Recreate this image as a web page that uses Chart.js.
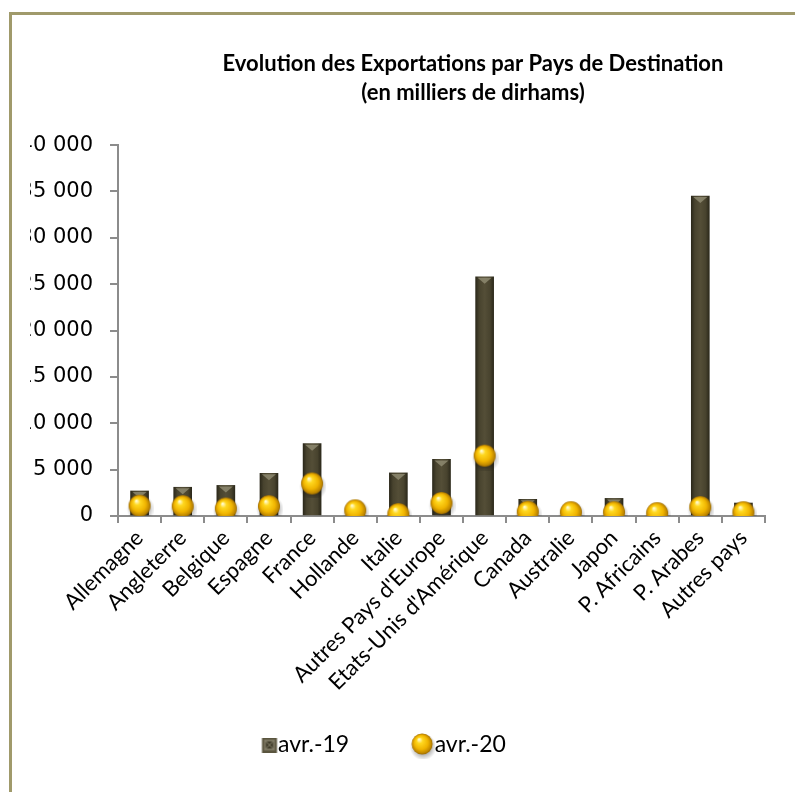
<!DOCTYPE html>
<html>
<head>
<meta charset="utf-8">
<script src="https://cdn.jsdelivr.net/npm/chart.js@4"></script>
<style>
  html,body{margin:0;padding:0;background:#fff;width:795px;height:792px;overflow:hidden;}
  #frame{position:absolute;left:9px;top:12px;width:1000px;height:1000px;border-left:3px solid #a09a6b;border-top:3px solid #a09a6b;}
  #clip{position:absolute;left:30px;top:0;width:765px;height:792px;overflow:hidden;}
  #wrap{position:absolute;left:-20px;top:15px;width:926px;height:777px;}
</style>
</head>
<body>
<div id="frame"></div>
<div id="clip"><div id="wrap"><canvas id="c"></canvas></div></div>
<script>
const categories = ["Allemagne","Angleterre","Belgique","Espagne","France","Hollande","Italie","Autres Pays d'Europe","Etats-Unis d'Amérique","Canada","Australie","Japon","P. Africains","P. Arabes","Autres pays"];
const avr19 = [2700,3100,3300,4600,7800,300,4650,6100,25800,1800,250,1900,150,34500,1400];
const avr20 = [1000,950,700,950,3400,500,100,1300,6400,350,300,300,200,850,300];
const yTicks = [0,5000,10000,15000,20000,25000,30000,35000,40000];
const titleLines = ["Evolution des Exportations par Pays de Destination","(en milliers de dirhams)"];
const seriesNames = ["avr.-19","avr.-20"];

function fmt(v){return String(v).replace(/\B(?=(\d{3})+(?!\d))/g,' ');}

function drawSphere(g,cx,cy,r){
  const sh=g.createRadialGradient(cx+1,cy+3,r*0.6,cx+1,cy+3,r+3);
  sh.addColorStop(0,'rgba(0,0,0,0.35)');sh.addColorStop(1,'rgba(0,0,0,0)');
  g.fillStyle=sh;g.beginPath();g.arc(cx+1,cy+3,r+3,0,Math.PI*2);g.fill();
  const gr=g.createRadialGradient(cx-r*0.3,cy-r*0.45,r*0.05,cx,cy,r);
  gr.addColorStop(0,'#fffbd0');
  gr.addColorStop(0.25,'#ffd820');
  gr.addColorStop(0.65,'#f0b400');
  gr.addColorStop(0.9,'#c08800');
  gr.addColorStop(1,'#9a6a00');
  g.fillStyle=gr;g.beginPath();g.arc(cx,cy,r,0,Math.PI*2);g.fill();
}
function makeSphere(d){
  const cv=document.createElement('canvas');
  const s=d+6; cv.width=s; cv.height=s;
  drawSphere(cv.getContext('2d'),s/2,s/2-1,d/2);
  return cv;
}
const LEG_W=64, LEG_IMG=LEG_W+24;
function makeLegendSphere(){
  const cv=document.createElement('canvas');
  cv.width=LEG_IMG; cv.height=28;
  drawSphere(cv.getContext('2d'),12+LEG_W-1,13,10.5);
  return cv;
}
function makeLegendSquare(){
  const cv=document.createElement('canvas');
  const d=15; cv.width=LEG_IMG; cv.height=d;
  const g=cv.getContext('2d');
  const o=12+LEG_W+11.5-16;
  g.fillStyle='#5a553e';g.fillRect(o,0,d,d);
  g.fillStyle='#7a7560';g.fillRect(o+2,2,d-4,d-4);
  g.fillStyle='#3e3a28';g.fillRect(o+4,4,d-8,d-8);
  g.strokeStyle='#8d8872';g.lineWidth=1;
  g.beginPath();g.moveTo(o+3,3);g.lineTo(o+d-3,d-3);g.moveTo(o+d-3,3);g.lineTo(o+3,d-3);g.stroke();
  return cv;
}
const sphere=makeSphere(22);
const legSphere=makeLegendSphere();
const legSquare=makeLegendSquare();

const barTopPlugin={
  id:'barTop',
  afterDatasetDraw(chart,args){
    if(args.index!==0)return;
    const c=chart.ctx;
    args.meta.data.forEach(el=>{
      const w=el.width, x=el.x, y=el.y;
      if(el.base-y<6)return;
      c.save();
      c.fillStyle='rgba(150,145,120,0.75)';
      c.beginPath();
      c.moveTo(x-w/2+2,y+1);c.lineTo(x+w/2-2,y+1);c.lineTo(x,y+7);c.closePath();c.fill();
      c.restore();
    });
  }
};
const placePlugin={
  id:'place',
  afterLayout(chart){
    const t=chart.titleBlock;
    if(t){t.left=0;t.right=chart.width;t.width=chart.width;}
    const l=chart.legend;
    if(l){
      l.left=182.5;l.right=chart.width;l.width=l.right-l.left;
      l.top=708.5;l.bottom=chart.height;l.height=l.bottom-l.top;
    }
  }
};

const ctx=document.getElementById('c');
new Chart(ctx,{
  data:{
    labels:categories,
    datasets:[
      {
        type:'bar',label:seriesNames[0],data:avr19,order:1,
        barThickness:18,
        backgroundColor:(c)=>{
          const ch=c.chart;
          if(!ch.scales||!ch.scales.x||c.dataIndex===undefined)return '#4a4530';
          const x=ch.scales.x.getPixelForValue(c.dataIndex);
          if(!isFinite(x))return '#4a4530';
          const g=ch.ctx.createLinearGradient(x-9,0,x+9,0);
          g.addColorStop(0,'#2c291b');
          g.addColorStop(0.2,'#48432e');
          g.addColorStop(0.5,'#544e37');
          g.addColorStop(0.8,'#48432e');
          g.addColorStop(1,'#2c291b');
          return g;
        },
        borderWidth:0
      },
      {
        type:'line',label:seriesNames[1],data:avr20,order:0,
        showLine:false,
        pointStyle:sphere,
        pointRadius:11,pointHoverRadius:11,
        backgroundColor:'#f0b400',borderColor:'#f0b400'
      }
    ]
  },
  plugins:[barTopPlugin,placePlugin],
  options:{
    responsive:true,maintainAspectRatio:false,animation:false,
    devicePixelRatio:1,
    layout:{padding:{left:0,right:171,top:0,bottom:48}},
    plugins:{
      tooltip:{enabled:false},
      title:{
        display:true,text:titleLines,color:'#000',
        font:{family:'Lato',size:22,weight:'bold',lineHeight:1.32},
        padding:{top:34,bottom:38}
      },
      legend:{
        display:true,position:'bottom',align:'start',
        labels:{
          usePointStyle:true,pointStyleWidth:LEG_W,color:'#000',
          font:{family:'Lato',size:23},
          padding:10,
          generateLabels:(chart)=>{
            return chart.data.datasets.map((ds,i)=>({
              text:ds.label,datasetIndex:i,
              pointStyle:i===0?legSquare:legSphere,
              fillStyle:'#000',strokeStyle:'#000',lineWidth:0,hidden:false
            }));
          }
        }
      }
    },
    scales:{
      x:{
        offset:true,
        grid:{display:true,offset:true,drawOnChartArea:false,drawTicks:true,tickLength:7,color:'#8c8c8c',lineWidth:2},
        border:{display:true,color:'#8c8c8c',width:2},
        ticks:{color:'#000',font:{family:'Lato',size:22},minRotation:45,maxRotation:45,padding:2,autoSkip:false},
        afterFit:(s)=>{s.height=185;}
      },
      y:{
        min:0,max:40000,
        afterBuildTicks:(s)=>{s.ticks=yTicks.map(v=>({value:v}));},
        grid:{display:true,drawOnChartArea:false,drawTicks:true,tickLength:8,color:'#8c8c8c',lineWidth:2},
        border:{display:true,color:'#8c8c8c',width:2},
        ticks:{color:'#000',font:{family:'DejaVu Sans',size:21},padding:17,callback:(v)=>fmt(v)},
        afterFit:(s)=>{s.width=108;}
      }
    }
  }
});
</script>
</body>
</html>
